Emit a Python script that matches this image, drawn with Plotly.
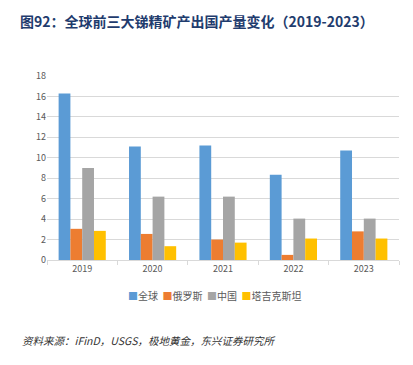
import plotly.graph_objects as go

years = ["2019", "2020", "2021", "2022", "2023"]
global_vals = [16.3, 11.1, 11.2, 8.35, 10.7]
russia_vals = [3.05, 2.55, 2.0, 0.5, 2.8]
china_vals = [9.0, 6.2, 6.2, 4.05, 4.05]
tajik_vals = [2.85, 1.35, 1.7, 2.1, 2.1]
y_ticks = [0, 2, 4, 6, 8, 10, 12, 14, 16, 18]

series = [
    ("全球", global_vals, "#5B9BD5"),
    ("俄罗斯", russia_vals, "#ED7D31"),
    ("中国", china_vals, "#A5A5A5"),
    ("塔吉克斯坦", tajik_vals, "#FFC000"),
]

W, H = 413, 365
L, R, T, B = 47, 14, 76, 105
PH = H - T - B
PW = W - L - R

fig = go.Figure()
for name, vals, color in series:
    fig.add_trace(go.Bar(x=years, y=vals, name=name, marker_color=color,
                         marker_line_width=0, showlegend=False))

font_cjk = "Noto Sans CJK SC, Noto Sans, sans-serif"

fig.update_layout(
    width=W, height=H,
    margin=dict(l=L, r=R, t=T, b=B),
    paper_bgcolor="white", plot_bgcolor="white",
    barmode="group", bargap=0.33, bargroupgap=0,
    font=dict(family=font_cjk, size=9, color="#595959"),
    showlegend=False,
    title=dict(text="<b>图92：全球前三大锑精矿产出国产量变化（2019-2023）</b>",
               x=20 / W, xanchor="left", xref="container",
               y=1 - 22 / H, yanchor="middle", yref="container",
               font=dict(family=font_cjk, size=14, color="#1F3C6E")),
)

fig.update_yaxes(range=[0, 18], tickvals=y_ticks, showgrid=True,
                 gridcolor="#D9D9D9", gridwidth=1, zeroline=False,
                 showline=False, ticks="", tickfont=dict(size=9, color="#595959"),
                 fixedrange=True)
fig.update_xaxes(showline=True, linecolor="#D9D9D9", linewidth=1,
                 ticks="outside", tickson="boundaries", ticklen=4,
                 tickcolor="#D9D9D9", tickfont=dict(size=9, color="#595959"),
                 fixedrange=True)

# legend built from the series list
parts = []
for name, _, color in series:
    parts.append(f"<span style='color:{color}'>■</span>{name}")
legend_text = "&nbsp;&nbsp;".join(parts)
fig.add_annotation(text=legend_text, xref="paper", yref="paper",
                   x=(214 - L) / PW, xanchor="center",
                   y=(260 - 295) / PH, yanchor="middle", showarrow=False,
                   font=dict(family=font_cjk, size=10, color="#595959"))

fig.add_annotation(text="<i>资料来源：iFinD，USGS，极地黄金，东兴证券研究所</i>",
                   xref="paper", yref="paper",
                   x=(20 - L) / PW, xanchor="left",
                   y=(260 - 340) / PH, yanchor="middle",
                   showarrow=False,
                   font=dict(family=font_cjk, size=10.5, color="#333333"))

fig.write_html("out.html", config={"displayModeBar": False},
               post_script="document.body.style.margin='0';document.body.style.padding='0';")
